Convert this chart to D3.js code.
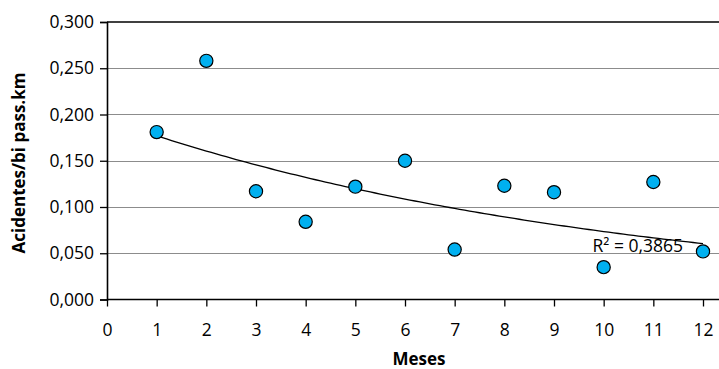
<!DOCTYPE html>
<html>
<head>
    <title>Acidentes por bi pass.km</title>
    <script src="https://d3js.org/d3.v7.min.js"></script>
    <style>
        body {
            margin: 0;
            padding: 0;
            background: #fff;
        }
        svg text {
            font-family: "Open Sans", Arial, sans-serif;
            fill: #000;
        }
        .grid line {
            stroke: #8c8c8c;
            stroke-width: 1;
        }
    </style>
</head>
<body>
    <div id="chart"></div>

    <script>
        // Data
        const meses = [1, 2, 3, 4, 5, 6, 7, 8, 9, 10, 11, 12];
        const acidentes = [0.181, 0.258, 0.117, 0.084, 0.122, 0.150, 0.054, 0.123, 0.116, 0.035, 0.127, 0.052];
        const xTicks = [0, 1, 2, 3, 4, 5, 6, 7, 8, 9, 10, 11, 12];
        const yTicks = [0, 0.05, 0.1, 0.15, 0.2, 0.25, 0.3];
        const r2Label = 'R² = 0,3865';

        const width = 719;
        const height = 369;

        const svg = d3.select('#chart')
            .append('svg')
            .attr('width', width)
            .attr('height', height);

        // Scales
        const x = d3.scaleLinear().domain([0, 12]).range([107, 703]);
        const y = d3.scaleLinear().domain([0, 0.3]).range([299.5, 22]);
        const plotRight = 725;

        const fmtY = v => d3.format('.3f')(v).replace('.', ',');

        // Gridlines
        svg.append('g')
            .attr('class', 'grid')
            .selectAll('line')
            .data(yTicks.filter(v => v > 0 && v < 0.3))
            .join('line')
            .attr('x1', x(0))
            .attr('x2', plotRight)
            .attr('y1', d => Math.round(y(d)) + 0.5)
            .attr('y2', d => Math.round(y(d)) + 0.5);

        // top border of the plot area
        svg.append('line')
            .attr('x1', x(0)).attr('x2', plotRight)
            .attr('y1', y(0.3)).attr('y2', y(0.3))
            .attr('stroke', '#000').attr('stroke-width', 1.6);

        // Y axis
        const yAxis = svg.append('g')
            .attr('transform', `translate(${x(0)},0)`)
            .call(d3.axisLeft(y).tickValues(yTicks).tickSize(7).tickFormat(fmtY));
        yAxis.select('.domain').attr('stroke', '#000').attr('stroke-width', 1.6);
        yAxis.selectAll('.tick line').attr('stroke', '#000').attr('stroke-width', 1.3);
        yAxis.selectAll('.tick text')
            .attr('x', -13)
            .attr('font-size', 17.5)
            .attr('font-family', '"Open Sans", Arial, sans-serif');

        // X axis
        const xAxis = svg.append('g')
            .attr('transform', `translate(0,${y(0)})`)
            .call(d3.axisBottom(x).tickValues(xTicks).tickSize(7).tickSizeOuter(0));
        xAxis.select('.domain').attr('stroke', '#000').attr('stroke-width', 1.6)
            .attr('d', `M${x(0)},0H${plotRight}`);
        xAxis.selectAll('.tick line').attr('stroke', '#000').attr('stroke-width', 1.3);
        xAxis.selectAll('.tick text')
            .attr('y', 0)
            .attr('dy', 0)
            .attr('transform', 'translate(0,36)')
            .attr('font-size', 17.5)
            .attr('font-family', '"Open Sans", Arial, sans-serif');

        // Exponential trendline fit (as in Excel): ln(y) = ln(c) + k*x
        const ly = acidentes.map(Math.log);
        const mx = d3.mean(meses);
        const my = d3.mean(ly);
        const k = d3.sum(meses, (v, i) => (v - mx) * (ly[i] - my)) / d3.sum(meses, v => (v - mx) ** 2);
        const c = Math.exp(my - k * mx);
        const trendX = d3.range(1, 12.001, 0.1);

        svg.append('path')
            .datum(trendX)
            .attr('fill', 'none')
            .attr('stroke', '#000')
            .attr('stroke-width', 1.3)
            .attr('d', d3.line()
                .x(d => x(d))
                .y(d => y(c * Math.exp(k * d))));

        // Points
        svg.append('g')
            .selectAll('circle')
            .data(meses)
            .join('circle')
            .attr('cx', d => x(d))
            .attr('cy', (d, i) => y(acidentes[i]))
            .attr('r', 6.6)
            .attr('fill', '#00b0f0')
            .attr('stroke', '#000')
            .attr('stroke-width', 1.2);

        // R² label
        svg.append('text')
            .attr('x', 683)
            .attr('y', 252)
            .attr('text-anchor', 'end')
            .attr('font-size', 17.5)
            .text(r2Label);

        // Axis titles
        svg.append('text')
            .attr('x', 419)
            .attr('y', 365)
            .attr('text-anchor', 'middle')
            .attr('font-size', 17)
            .attr('font-weight', 'bold')
            .text('Meses');

        svg.append('text')
            .attr('transform', 'translate(25,163) rotate(-90)')
            .attr('text-anchor', 'middle')
            .attr('font-size', 17)
            .attr('font-weight', 'bold')
            .text('Acidentes/bi pass.km');
    </script>
</body>
</html>
